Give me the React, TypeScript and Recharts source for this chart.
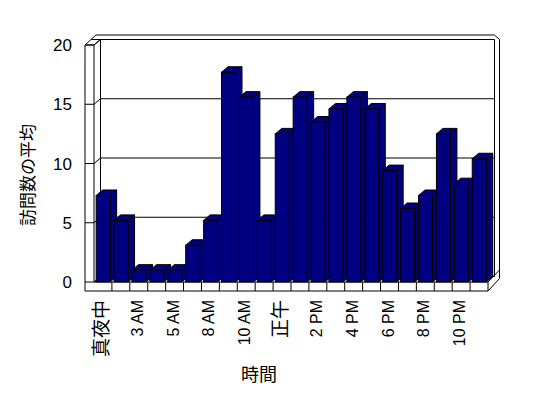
import { BarChart, Bar, XAxis, YAxis, CartesianGrid, Customized } from "recharts";

// hourly categories (only every other one is labelled in the chart)
const hours = [
  "真夜中", "1 AM", "3 AM", "4 AM", "5 AM", "6 AM", "8 AM", "9 AM", "10 AM", "11 AM", "正午",
  "1 PM", "2 PM", "3 PM", "4 PM", "5 PM", "6 PM", "7 PM", "8 PM", "9 PM", "10 PM", "11 PM",
];
const visits = [
  7.3, 5.2, 1, 1, 1, 3.1, 5.2, 17.7, 15.6, 5.2, 12.5,
  15.6, 13.5, 14.6, 15.6, 14.6, 9.4, 6.2, 7.3, 12.5, 8.3, 10.4,
];
const yTicks = [0, 5, 10, 15, 20];
const yTitle = "訪問数の平均";
const xTitle = "時間";

const data = hours.map((hour, i) => ({ hour, visits: visits[i] }));

const W = 532;
const H = 380;
const DX = 6.5; // depth offset of the 3d box
const DY = -5.5;
const WALL = 9; // thickness of the left wall / floor
const PLOT = { left: 86, top: 37, right: 480, bottom: 274 };
const FONT = '"Liberation Sans", "Noto Sans CJK JP", sans-serif';
const NAVY = "#000080";

const pts = (list: number[][]) => list.map((p) => p.join(",")).join(" ");

const Bar3D = (props: any) => {
  const { x, y, width: w, height: h } = props;
  if (h == null || w == null) return null;
  return (
    <g stroke="#000" strokeWidth={1} fill={NAVY}>
      <polygon points={pts([[x, y], [x + w, y], [x + w + DX, y + DY], [x + DX, y + DY]])} />
      <polygon points={pts([[x + w, y], [x + w + DX, y + DY], [x + w + DX, y + h + DY], [x + w, y + h]])} />
      <rect x={x} y={y} width={w} height={h} />
    </g>
  );
};

const GridLine = (props: any) => {
  const { x1, x2, y1 } = props;
  return (
    <g stroke="#000" strokeWidth={1}>
      <line x1={x1 + DX} y1={y1 + DY} x2={x2 + DX} y2={y1 + DY} />
      <line x1={x1} y1={y1} x2={x1 + DX} y2={y1 + DY} />
      <line x1={x1 - WALL} y1={y1} x2={x1} y2={y1} />
    </g>
  );
};

const HourTick = (props: any) => {
  const { x, y, payload } = props;
  const label = String(payload.value);
  const cjk = /[^\x00-\x7F]/.test(label);
  return (
    <g transform={`translate(${Math.round(x - 2)},${Math.round(y)}) rotate(-90)`}>
      <text
        x={0}
        y={0}
        dy="0.35em"
        textAnchor="end"
        fontFamily={FONT}
        fontSize={cjk ? 19 : 16}
        fill="#000"
      >
        {label}
      </text>
    </g>
  );
};

const Walls = () => {
  const { left: L, top: T, right: R, bottom: B } = PLOT;
  const step = (R - L) / hours.length;
  return (
    <g fill="none" stroke="#000" strokeWidth={1}>
      <polygon
        points={pts([
          [L - WALL, B + WALL],
          [L - WALL, T],
          [L - WALL + DX + 4.5, T + DY - 4.5],
          [R + DX, T + DY - 4.5],
          [R + DX + 5, T + DY],
          [R + DX + 5, B + WALL - 12.5],
          [R, B + WALL],
        ])}
      />
      <line x1={L - WALL} y1={T} x2={L} y2={T} />
      <line x1={L - WALL + DX} y1={T + DY} x2={R + DX} y2={T + DY} />
      <line x1={L} y1={T} x2={L + DX} y2={T + DY} />
      <line x1={L} y1={T} x2={L} y2={B} />
      <line x1={L + DX} y1={T + DY} x2={L + DX} y2={B + DY} />
      <line x1={R + DX} y1={T + DY} x2={R + DX} y2={B + DY} />
      <line x1={L} y1={B} x2={R} y2={B} />
      <line x1={L + DX} y1={B + DY} x2={R + DX} y2={B + DY} />
      <line x1={L} y1={B} x2={L + DX} y2={B + DY} />
      <line x1={R} y1={B} x2={R + DX + 5} y2={B + WALL - 21} />
      <line x1={R} y1={B} x2={R} y2={B + WALL} />
      {hours.slice(1).map((_, i) => (
        <line key={i} x1={L + step * (i + 1)} y1={B} x2={L + step * (i + 1)} y2={B + WALL} />
      ))}
      <text
        x={20}
        y={167}
        transform="rotate(-90 20 167)"
        textAnchor="middle"
        dominantBaseline="central"
        fontFamily={FONT}
        fontSize={17}
        fill="#000"
        stroke="none"
      >
        {yTitle}
      </text>
      <text
        x={251}
        y={367}
        textAnchor="middle"
        dominantBaseline="central"
        fontFamily={FONT}
        fontSize={18}
        fill="#000"
        stroke="none"
      >
        {xTitle}
      </text>
    </g>
  );
};

export default function App() {
  return (
    <BarChart
      width={W}
      height={H}
      data={data}
      margin={{ top: PLOT.top, right: W - PLOT.right, bottom: 6, left: 0 }}
      barCategoryGap="12%"
    >
      <Customized component={Walls} />
      <CartesianGrid vertical={false} horizontal={GridLine} />
      <XAxis
        dataKey="hour"
        height={H - PLOT.bottom - 6}
        interval={1}
        axisLine={false}
        tickLine={false}
        tickSize={0}
        tickMargin={18}
        tick={HourTick}
      />
      <YAxis
        width={PLOT.left}
        domain={[0, 20]}
        ticks={yTicks}
        axisLine={false}
        tickLine={false}
        tickSize={0}
        tickMargin={22}
        tick={{ fill: "#000", fontSize: 17, fontFamily: FONT }}
      />
      <Bar dataKey="visits" shape={Bar3D} isAnimationActive={false} />
    </BarChart>
  );
}
